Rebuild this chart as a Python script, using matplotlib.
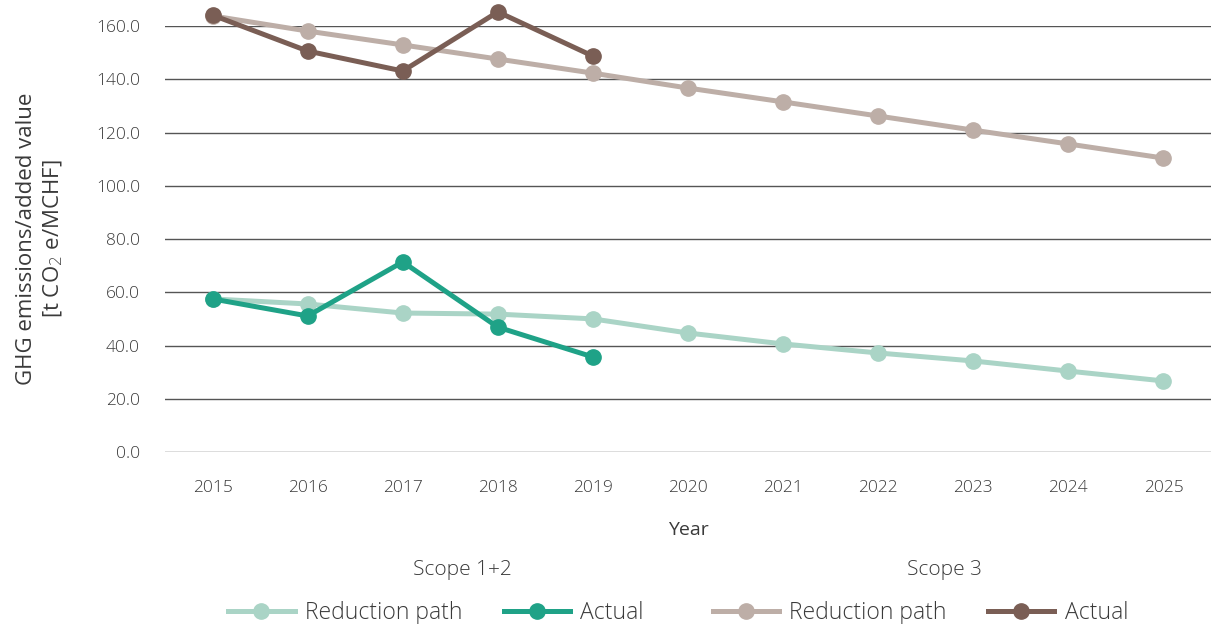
import matplotlib
matplotlib.use("Agg")
from matplotlib import pyplot as plt
from matplotlib.lines import Line2D

years = ["2015", "2016", "2017", "2018", "2019", "2020", "2021", "2022", "2023", "2024", "2025"]
s12_path = [57.5, 55.6, 52.2, 51.8, 50.0, 44.7, 40.6, 37.2, 34.2, 30.4, 26.7]
s12_actual = [57.5, 51.1, 71.4, 46.9, 35.7]
s3_path = [163.8, 158.1, 152.9, 147.6, 142.3, 136.7, 131.5, 126.2, 120.9, 115.7, 110.4]
s3_actual = [164.1, 150.6, 143.1, 165.3, 148.7]
yticks = [0, 20, 40, 60, 80, 100, 120, 140, 160]

c_path12 = "#aad4c6"
c_act12 = "#1fa287"
c_path3 = "#bdaea7"
c_act3 = "#7a5e55"
txt = "#3a3a3a"

plt.rcParams["font.family"] = ["Open Sans", "DejaVu Sans"]
plt.rcParams["font.weight"] = "light"

fig = plt.figure(figsize=(12.11, 6.24), dpi=100)
ax = fig.add_axes([0.1363, 0.2756, 0.8637, 0.6827])

x_all = list(range(len(years)))
x_act = x_all[:len(s12_actual)]
lw, ms = 3.6, 11

ax.plot(x_all, s12_path, color=c_path12, lw=lw, marker="o", ms=ms, clip_on=False, zorder=3)
ax.plot(x_act, s12_actual, color=c_act12, lw=lw, marker="o", ms=ms, clip_on=False, zorder=4)
ax.plot(x_all, s3_path, color=c_path3, lw=lw, marker="o", ms=ms, clip_on=False, zorder=3)
ax.plot(x_act, s3_actual, color=c_act3, lw=lw, marker="o", ms=ms, clip_on=False, zorder=4)

ax.set_xlim(-0.5, len(years) - 0.5)
ax.set_ylim(0, 160)
ax.set_xticks(x_all)
ax.set_xticklabels(years)
ax.set_yticks(yticks)
ax.set_yticklabels([f"{v:.1f}" for v in yticks])
ax.tick_params(length=0, labelsize=12.5, labelcolor=txt)
ax.tick_params(axis="y", pad=18)
ax.tick_params(axis="x", pad=20)
ax.grid(axis="y", color="#555555", lw=1)
ax.set_axisbelow(True)
for s in ax.spines.values():
    s.set_visible(False)

ax.set_xlabel("Year", fontsize=14, color=txt, labelpad=18)
ax.set_ylabel("GHG emissions/added value\n[t CO$_2$ e/MCHF]", fontsize=16, color=txt,
              labelpad=22, linespacing=1.3)

def handle(c):
    return Line2D([], [], color=c, lw=lw, marker="o", ms=ms)

kw = dict(frameon=False, ncol=2, fontsize=16.5, handlelength=2.9,
          columnspacing=1.8, handletextpad=0.45, loc="center")
fig.legend([handle(c_path12), handle(c_act12)], ["Reduction path", "Actual"],
           bbox_to_anchor=(0.36, 0.018), labelcolor=txt, **kw)
fig.legend([handle(c_path3), handle(c_act3)], ["Reduction path", "Actual"],
           bbox_to_anchor=(0.76, 0.018), labelcolor=txt, **kw)
fig.text(462 / 1211, 1 - 570 / 624, "Scope 1+2", ha="center", va="center", fontsize=15, color=txt)
fig.text(944 / 1211, 1 - 570 / 624, "Scope 3", ha="center", va="center", fontsize=15, color=txt)

fig.savefig("out.png", dpi=100)
